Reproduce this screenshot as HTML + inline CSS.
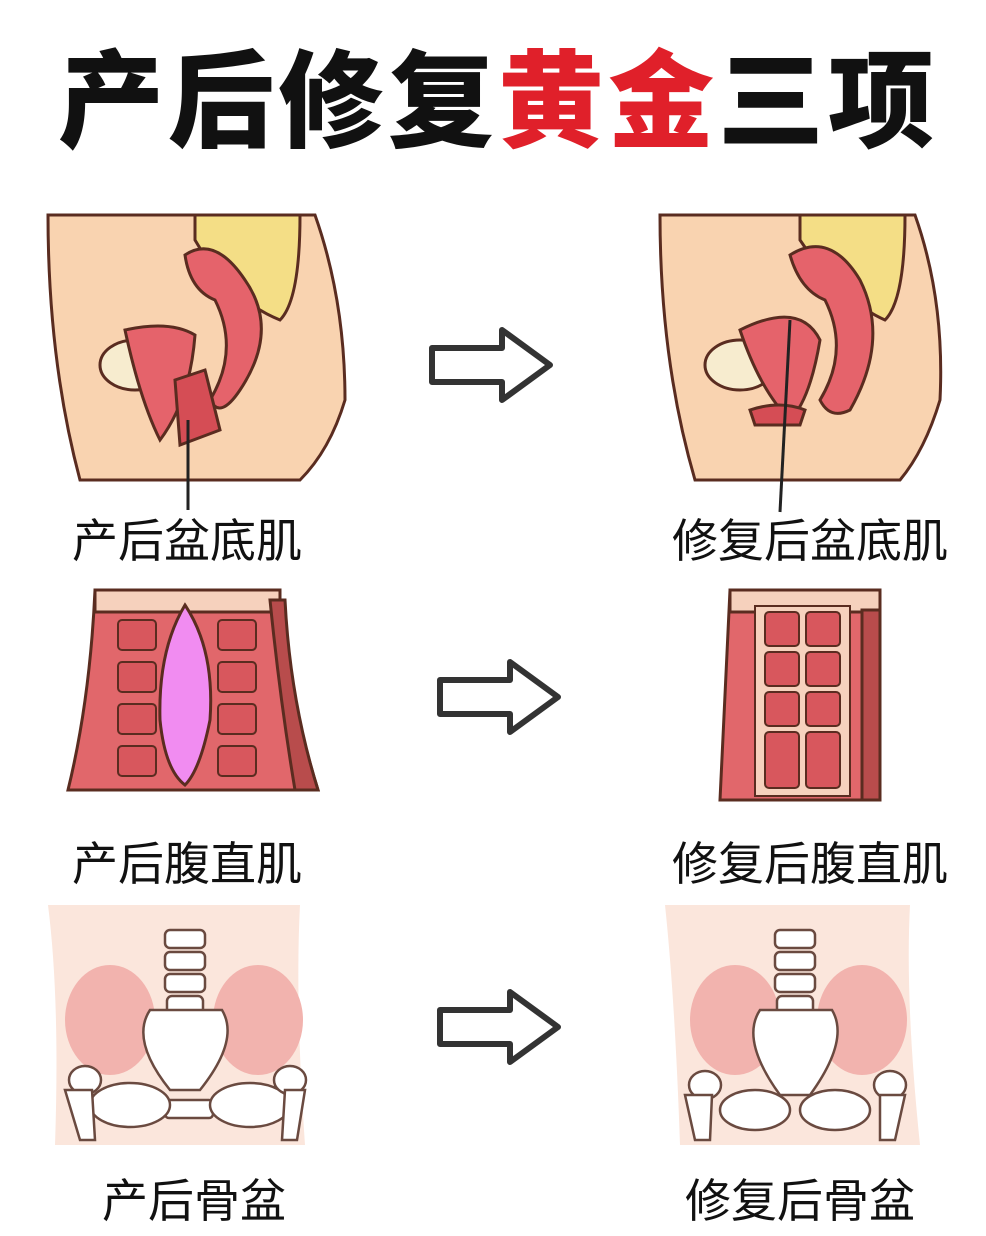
<!DOCTYPE html>
<html><head><meta charset="utf-8"><style>
body{margin:0;background:#fff;width:986px;height:1236px;overflow:hidden;position:relative;font-family:"Liberation Sans","Noto Sans CJK SC",sans-serif}
.t{position:absolute;white-space:nowrap}
svg{position:absolute;left:0;top:0}
</style></head><body>
<div class="t" style="left:58px;top:16px;font-size:106px;font-weight:900;color:#111;letter-spacing:4px">产后修复<span style="color:#e0202a">黄金</span>三项</div>
<svg width="986" height="1236" viewBox="0 0 986 1236">
<defs>
<g id="arrow"><path d="M0 18 H70 V0 L118 35 L70 70 V52 H0 Z" fill="#fff" stroke="#333" stroke-width="6" stroke-linejoin="round"/></g>
</defs>
<g stroke="#5a2c20" stroke-width="3">
<path d="M48 215 H315 Q345 300 345 400 Q330 450 300 480 H80 Q48 360 48 215 Z" fill="#f9d3b0"/>
<path d="M195 215 H300 Q300 300 280 320 Q230 300 195 240 Z" fill="#f4de86"/>
<path d="M185 255 Q215 235 245 280 Q280 330 240 390 Q220 420 210 400 Q240 350 215 300 Q190 290 185 255 Z" fill="#e5636b"/>
<ellipse cx="135" cy="365" rx="35" ry="25" fill="#f7eccf"/>
<path d="M125 330 Q170 320 195 335 Q190 400 160 440 Q140 400 125 330 Z" fill="#e5636b"/>
<path d="M175 380 L205 370 L220 430 L180 445 Z" fill="#d54d55"/>
<line x1="188" y1="420" x2="188" y2="510" stroke="#222"/>
<path d="M660 215 H915 Q945 300 940 400 Q925 450 900 480 H695 Q660 360 660 215 Z" fill="#f9d3b0"/>
<path d="M800 215 H905 Q905 300 885 320 Q840 300 800 240 Z" fill="#f4de86"/>
<path d="M790 255 Q830 230 860 280 Q890 340 850 410 Q830 420 820 400 Q850 350 825 300 Q800 290 790 255 Z" fill="#e5636b"/>
<ellipse cx="740" cy="365" rx="35" ry="25" fill="#f7eccf"/>
<path d="M740 330 Q800 300 820 340 Q810 400 790 420 Q760 390 740 330 Z" fill="#e5636b"/>
<path d="M750 410 Q780 400 805 410 L800 425 L755 425 Z" fill="#d54d55"/>
<line x1="790" y1="320" x2="780" y2="512" stroke="#222"/>
<path d="M95 590 H280 Q280 610 280 610 Q290 700 318 790 H68 Q90 700 95 590 Z" fill="#e1676b"/>
<path d="M95 590 H280 V612 H95 Z" fill="#f6d1bd"/>
<path d="M285 600 Q290 700 318 790 H295 Q280 700 270 600 Z" fill="#b84c4c"/>
<path d="M185 605 Q215 650 210 720 Q200 770 185 785 Q165 770 160 720 Q158 650 185 605 Z" fill="#f18cf1"/>
<g fill="#d8575d" stroke="#5a2c20" stroke-width="2">
<rect x="118" y="620" width="38" height="30" rx="4"/><rect x="118" y="662" width="38" height="30" rx="4"/><rect x="118" y="704" width="38" height="30" rx="4"/><rect x="118" y="746" width="38" height="30" rx="4"/>
<rect x="218" y="620" width="38" height="30" rx="4"/><rect x="218" y="662" width="38" height="30" rx="4"/><rect x="218" y="704" width="38" height="30" rx="4"/><rect x="218" y="746" width="38" height="30" rx="4"/>
</g>
<path d="M730 590 H880 V800 H720 Z" fill="#e1676b"/>
<path d="M730 590 H880 V612 H730 Z" fill="#f6d1bd"/>
<path d="M862 610 H880 V800 H862 Z" fill="#b84c4c"/>
<rect x="755" y="606" width="95" height="190" fill="#f6d1bd" stroke-width="2"/>
<g fill="#d8575d" stroke="#5a2c20" stroke-width="2">
<rect x="765" y="612" width="34" height="34" rx="4"/><rect x="806" y="612" width="34" height="34" rx="4"/>
<rect x="765" y="652" width="34" height="34" rx="4"/><rect x="806" y="652" width="34" height="34" rx="4"/>
<rect x="765" y="692" width="34" height="34" rx="4"/><rect x="806" y="692" width="34" height="34" rx="4"/>
<rect x="765" y="732" width="34" height="56" rx="4"/><rect x="806" y="732" width="34" height="56" rx="4"/>
</g>
</g>
<g stroke="#6a4a40" stroke-width="3">
<path d="M48 905 H300 Q295 1000 305 1145 H55 Q60 1000 48 905 Z" fill="#fbe6dc" stroke="none"/>
<ellipse cx="110" cy="1020" rx="45" ry="55" fill="#f2b3ae" stroke="none"/>
<ellipse cx="258" cy="1020" rx="45" ry="55" fill="#f2b3ae" stroke="none"/>
<g fill="#fff" stroke-width="2.5">
<rect x="165" y="930" width="40" height="18" rx="5"/><rect x="165" y="952" width="40" height="18" rx="5"/><rect x="165" y="974" width="40" height="18" rx="5"/><rect x="167" y="996" width="36" height="18" rx="5"/>
<path d="M150 1010 H222 Q240 1040 200 1090 H170 Q130 1040 150 1010 Z"/>
<rect x="165" y="1100" width="48" height="18" rx="4"/>
<ellipse cx="130" cy="1105" rx="40" ry="22"/><ellipse cx="250" cy="1105" rx="40" ry="22"/>
<ellipse cx="85" cy="1080" rx="16" ry="14"/><ellipse cx="290" cy="1080" rx="16" ry="14"/>
<path d="M65 1090 L80 1140 H95 L92 1090Z"/><path d="M285 1090 L282 1140 H297 L305 1090Z"/>
</g>
<path d="M665 905 H910 Q905 1000 920 1145 H680 Q675 1000 665 905 Z" fill="#fbe6dc" stroke="none"/>
<ellipse cx="735" cy="1020" rx="45" ry="55" fill="#f2b3ae" stroke="none"/>
<ellipse cx="862" cy="1020" rx="45" ry="55" fill="#f2b3ae" stroke="none"/>
<g fill="#fff" stroke-width="2.5">
<rect x="775" y="930" width="40" height="18" rx="5"/><rect x="775" y="952" width="40" height="18" rx="5"/><rect x="775" y="974" width="40" height="18" rx="5"/><rect x="777" y="996" width="36" height="18" rx="5"/>
<path d="M760 1010 H832 Q850 1040 810 1095 H780 Q740 1040 760 1010 Z"/>
<ellipse cx="755" cy="1110" rx="35" ry="20"/><ellipse cx="835" cy="1110" rx="35" ry="20"/>
<ellipse cx="705" cy="1085" rx="16" ry="14"/><ellipse cx="890" cy="1085" rx="16" ry="14"/>
<path d="M685 1095 L695 1140 H710 L712 1095Z"/><path d="M880 1095 L880 1140 H895 L905 1095Z"/>
</g>
</g>
<use href="#arrow" x="432" y="330"/>
<use href="#arrow" x="440" y="662"/>
<use href="#arrow" x="440" y="992"/>
</svg>
<div class="t" style="left:72px;top:505px;font-size:46px;color:#111">产后盆底肌</div>
<div class="t" style="left:672px;top:505px;font-size:46px;color:#111">修复后盆底肌</div>
<div class="t" style="left:72px;top:828px;font-size:46px;color:#111">产后腹直肌</div>
<div class="t" style="left:672px;top:828px;font-size:46px;color:#111">修复后腹直肌</div>
<div class="t" style="left:102px;top:1165px;font-size:46px;color:#111">产后骨盆</div>
<div class="t" style="left:685px;top:1165px;font-size:46px;color:#111">修复后骨盆</div>
</body></html>
